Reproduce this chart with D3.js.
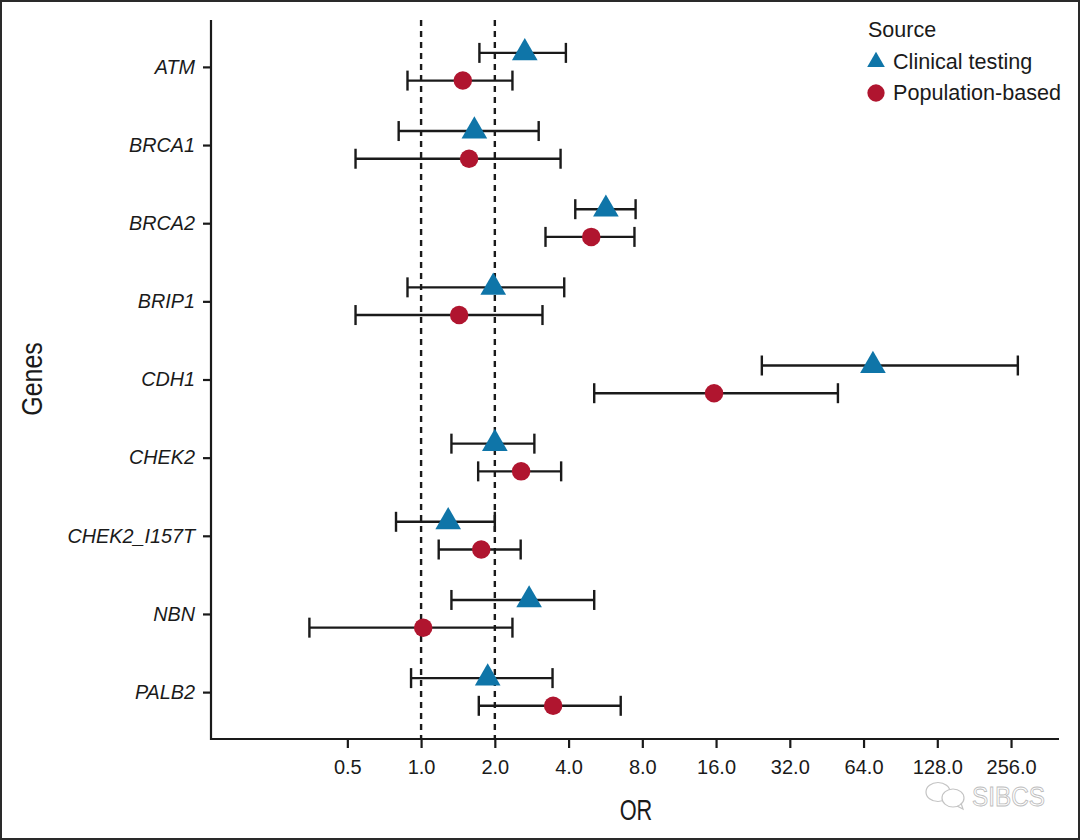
<!DOCTYPE html>
<html>
<head>
<meta charset="utf-8">
<script src="https://d3js.org/d3.v7.min.js"></script>
<style>
  html, body { margin: 0; padding: 0; background: #fff; }
  text { font-family: "Liberation Sans", Arial, sans-serif; fill: #1a1a1a; }
</style>
</head>
<body>
<svg id="chart" width="1080" height="840"></svg>
<script>
var genes = ["ATM", "BRCA1", "BRCA2", "BRIP1", "CDH1", "CHEK2", "CHEK2_I157T", "NBN", "PALB2"];
var sources = ["Clinical testing", "Population-based"];
var or_ticks = [0.5, 1, 2, 4, 8, 16, 32, 64, 128, 256];
var ref_lines = [1, 2];

// same gene order as above
var clinical_or = [2.65, 1.65, 5.68, 1.97, 69.9, 2.0, 1.29, 2.76, 1.87];
var clinical_lo = [1.73, 0.81, 4.26, 0.88, 24.6, 1.33, 0.79, 1.33, 0.91];
var clinical_hi = [3.90, 3.02, 7.51, 3.84, 272.9, 2.90, 2.0, 5.09, 3.44];
var population_or = [1.48, 1.57, 4.95, 1.43, 15.7, 2.56, 1.76, 1.02, 3.46];
var population_lo = [0.88, 0.54, 3.22, 0.54, 5.09, 1.71, 1.18, 0.35, 1.72];
var population_hi = [2.36, 3.71, 7.43, 3.13, 50.3, 3.73, 2.55, 2.36, 6.53];

var colors = { "Clinical testing": "#0f75a8", "Population-based": "#b0152f" };
var ink = "#1a1a1a";

var rows = [];
genes.forEach(function (g, i) {
  rows.push({ gene: g, source: sources[0], or: clinical_or[i], lo: clinical_lo[i], hi: clinical_hi[i], shift: -14 });
  rows.push({ gene: g, source: sources[1], or: population_or[i], lo: population_lo[i], hi: population_hi[i], shift: 13.7 });
});

var svg = d3.select("#chart");
var left = 211, right = 1059, top_y = 20, bottom = 739;

var x = d3.scaleLog().base(2).domain([0.1388, 401.8]).range([left, right]);
var y = d3.scalePoint().domain(genes).range([top_y, bottom]).padding(0.6);

// picture frame
svg.append("rect").attr("x", 1).attr("y", 1).attr("width", 1078).attr("height", 838)
  .attr("fill", "none").attr("stroke", "#2a2a2a").attr("stroke-width", 2);

//--------------------axes
var x_axis = d3.axisBottom(x).tickValues(or_ticks).tickSize(9).tickPadding(12)
  .tickFormat(function (d) { return d.toFixed(1); });
var y_axis = d3.axisLeft(y).tickSize(8).tickPadding(8);

var gx = svg.append("g").attr("transform", "translate(0," + bottom + ")").call(x_axis);
var gy = svg.append("g").attr("transform", "translate(" + left + ",0)").call(y_axis);
gx.selectAll("text").attr("font-size", 20).style("font-family", "Liberation Sans").style("fill", ink);
gy.selectAll("text").attr("font-size", 19.8).attr("font-style", "italic").style("font-family", "Liberation Sans").style("fill", ink);
[gx, gy].forEach(function (g) {
  g.selectAll("path,line").attr("stroke", ink).attr("stroke-width", 2.2);
  g.select(".domain").attr("d", g === gx
    ? "M" + left + ",0H" + right
    : "M0," + top_y + "V" + (bottom + 1));
});

//--------------------reference lines
svg.selectAll(".ref").data(ref_lines).join("line").attr("class", "ref")
  .attr("x1", x).attr("x2", x).attr("y1", top_y).attr("y2", bottom)
  .attr("stroke", ink).attr("stroke-width", 2.4).attr("stroke-dasharray", "6 5");

//--------------------error bars
var bars = svg.selectAll(".ci").data(rows).join("g").attr("class", "ci")
  .attr("transform", function (d) { return "translate(0," + (y(d.gene) + d.shift) + ")"; })
  .attr("stroke", ink).attr("stroke-width", 2.4);
bars.append("line").attr("x1", function (d) { return x(d.lo); }).attr("x2", function (d) { return x(d.hi); });
bars.append("line").attr("x1", function (d) { return x(d.lo); }).attr("x2", function (d) { return x(d.lo); }).attr("y1", -10).attr("y2", 10);
bars.append("line").attr("x1", function (d) { return x(d.hi); }).attr("x2", function (d) { return x(d.hi); }).attr("y1", -10).attr("y2", 10);

//--------------------markers
function marker(source, big) {
  if (source == sources[0]) { return d3.symbol().type(d3.symbolTriangle).size(big ? 285 : 135)(); }
  return d3.symbol().type(d3.symbolCircle).size(big ? 268 : 235)();
}
svg.selectAll(".mark").data(rows).join("path").attr("class", "mark")
  .attr("d", function (d) { return marker(d.source, true); })
  .attr("fill", function (d) { return colors[d.source]; })
  .attr("transform", function (d) { return "translate(" + x(d.or) + "," + (y(d.gene) + d.shift) + ")"; });

//--------------------legend
svg.append("text").attr("x", 868).attr("y", 37).attr("font-size", 21.5).attr("font-weight", 400).text("Source");
var legend = svg.selectAll(".legend").data(sources).join("g").attr("class", "legend")
  .attr("transform", function (d, i) { return "translate(876," + (62 + i * 31) + ")"; });
legend.append("path")
  .attr("d", function (d) { return marker(d, false); })
  .attr("fill", function (d) { return colors[d]; });
legend.append("text").attr("x", 17).attr("y", 7).attr("font-size", 21.6).text(function (d) { return d; });

//--------------------axis titles
svg.append("text").attr("transform", "translate(42,379) rotate(-90) scale(0.86,1)")
  .attr("text-anchor", "middle").attr("font-size", 29).text("Genes");
svg.append("text").attr("transform", "translate(636,820) scale(0.75,1)")
  .attr("text-anchor", "middle").attr("font-size", 29).text("OR");

//--------------------watermark
var mark = svg.append("g").attr("fill", "none").attr("stroke", "#c4c4c4").attr("stroke-width", 1.2);
mark.append("ellipse").attr("cx", 938).attr("cy", 792).attr("rx", 12).attr("ry", 9.5);
mark.append("ellipse").attr("cx", 953).attr("cy", 798).attr("rx", 11).attr("ry", 9).attr("fill", "#fff");
mark.append("path").attr("d", "M957,806l6,3l-2,-6");
svg.append("text").attr("x", 972).attr("y", 806).attr("font-size", 27)
  .attr("transform", "translate(972,0) scale(0.9,1) translate(-972,0)")
  .style("fill", "#fff").style("stroke", "#bdbdbd").style("stroke-width", 0.9).text("SIBCS");
</script>
</body>
</html>
